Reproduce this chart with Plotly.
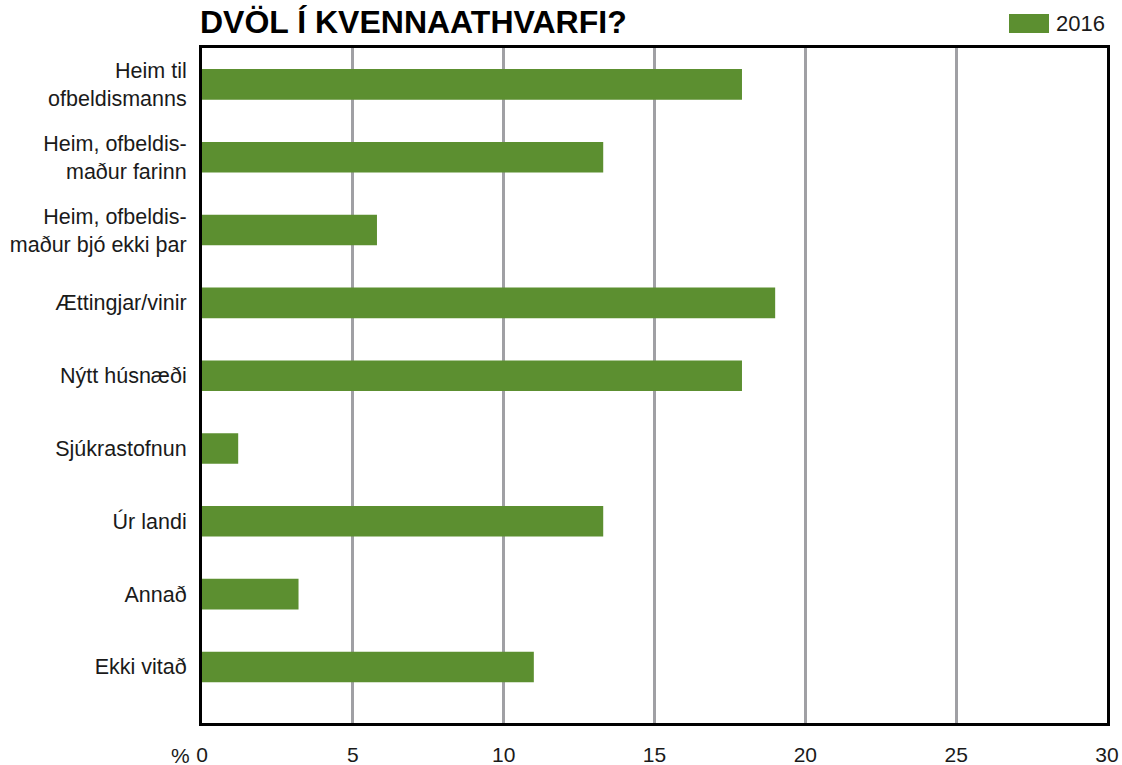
import plotly.graph_objects as go

categories = [
    "Heim til<br>ofbeldismanns",
    "Heim, ofbeldis-<br>maður farinn",
    "Heim, ofbeldis-<br>maður bjó ekki þar",
    "Ættingjar/vinir",
    "Nýtt húsnæði",
    "Sjúkrastofnun",
    "Úr landi",
    "Annað",
    "Ekki vitað",
]
values_2016 = [17.9, 13.3, 5.8, 19.0, 17.9, 1.2, 13.3, 3.2, 11.0]
series_name = "2016"
x_ticks = [0, 5, 10, 15, 20, 25, 30]
title_text = "DVÖL Í KVENNAATHVARFI?"

GREEN = "#5c8f30"
FONT = "Liberation Sans, Arial, sans-serif"

fig = go.Figure()
fig.add_trace(go.Bar(
    y=categories,
    x=values_2016,
    orientation="h",
    name=series_name,
    marker=dict(color=GREEN, line=dict(width=0)),
    width=0.42,
    showlegend=False,
))

W, H = 1122, 765
L, R, T, B = 202, 15, 48, 42
PW, PH = W - L - R, H - T - B

fig.update_layout(
    width=W, height=H,
    margin=dict(l=L, r=R, t=T, b=B, autoexpand=False),
    plot_bgcolor="white",
    paper_bgcolor="white",
    font=dict(family=FONT, size=21, color="#1a1a1a"),
    bargap=0.5,
)

fig.update_xaxes(
    range=[0, 30],
    tickvals=x_ticks,
    ticktext=[str(v) for v in x_ticks],
    showgrid=True,
    gridcolor="#a0a0a4",
    gridwidth=2.5,
    zeroline=False,
    showline=True,
    linecolor="black",
    linewidth=3,
    mirror=True,
    ticks="",
    automargin=False,
    ticklabelstandoff=11,
    tickfont=dict(size=21, family=FONT, color="#1a1a1a"),
)

fig.update_yaxes(
    type="category",
    categoryorder="array",
    categoryarray=categories,
    range=[8.77, -0.5],
    showgrid=False,
    zeroline=False,
    showline=True,
    linecolor="black",
    linewidth=3,
    mirror=True,
    ticks="",
    automargin=False,
    ticklabelstandoff=8,
    tickfont=dict(size=21.5, family=FONT, color="#1a1a1a"),
)

# Title
fig.add_annotation(
    x=0, y=1, xref="paper", yref="paper",
    xanchor="left", yanchor="bottom",
    yshift=6, xshift=-4,
    text="<b>" + title_text + "</b>",
    showarrow=False,
    font=dict(family=FONT, size=32, color="black"),
)

# "%" unit label next to the x ticks
fig.add_annotation(
    x=(192 - L) / PW, y=-32 / PH, xref="paper", yref="paper",
    xanchor="right", yanchor="middle",
    text="%",
    showarrow=False,
    font=dict(family=FONT, size=21, color="#1a1a1a"),
)

# Legend (drawn manually)
fig.add_shape(
    type="rect", xref="paper", yref="paper",
    x0=(1009 - L) / PW, x1=(1049 - L) / PW,
    y0=(H - B - 33) / PH, y1=(H - B - 14) / PH,
    fillcolor=GREEN, line=dict(width=0),
)
fig.add_annotation(
    x=(1054 - L) / PW, y=(H - B - 24) / PH,
    xref="paper", yref="paper",
    xanchor="left", yanchor="middle",
    text=series_name, showarrow=False,
    font=dict(family=FONT, size=22, color="#1a1a1a"),
)

fig.write_html(
    "out.html",
    config={"displayModeBar": False},
    post_script="document.body.style.margin='0';document.body.style.padding='0';document.body.style.overflow='hidden';",
)
